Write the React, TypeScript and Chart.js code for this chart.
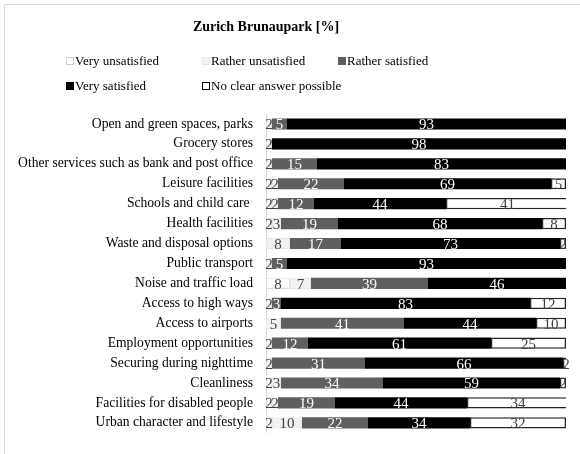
import React, { useEffect, useRef } from "react";
import { Chart, registerables } from "chart.js";

Chart.register(...registerables);

const categories = [
  "Open and green spaces, parks",
  "Grocery stores",
  "Other services such as bank and post office",
  "Leisure facilities",
  "Schools and child care ",
  "Health facilities",
  "Waste and disposal options",
  "Public transport",
  "Noise and traffic load",
  "Access to high ways",
  "Access to airports",
  "Employment opportunities",
  "Securing during nighttime",
  "Cleanliness",
  "Facilities for disabled people",
  "Urban character and lifestyle",
];

const veryUnsatisfied = [0, 0, 0, 2, 2, 2, 0, 0, 8, 0, 0, 0, 0, 2, 2, 2];
const ratherUnsatisfied = [2, 2, 2, 2, 2, 3, 8, 2, 7, 2, 5, 2, 2, 3, 2, 10];
const ratherSatisfied = [5, 0, 15, 22, 12, 19, 17, 5, 39, 3, 41, 12, 31, 34, 19, 22];
const verySatisfied = [93, 98, 83, 69, 44, 68, 73, 93, 46, 83, 44, 61, 66, 59, 44, 34];
const noClearAnswer = [0, 0, 0, 5, 41, 8, 2, 0, 0, 12, 10, 25, 2, 2, 34, 32];

const seriesNames = [
  "Very unsatisfied",
  "Rather unsatisfied",
  "Rather satisfied",
  "Very satisfied",
  "No clear answer possible",
];

const SERIF = '"Liberation Serif", "Times New Roman", serif';

const fills = ["#ffffff", "#f2f2f2", "#5f5f5f", "#000000", "#ffffff"];
const borders = ["#e0e0e0", "#e6e6e6", "#5f5f5f", "#000000", "#262626"];
const borderWidths = [1, 1, 0, 0, 1.5];
const labelColors = ["#404040", "#404040", "#ffffff", "#ffffff", "#404040"];

const decorPlugin = {
  id: "decor",
  beforeDraw(chart: any) {
    const ctx = chart.ctx;
    ctx.save();
    ctx.strokeStyle = "#d9d9d9";
    ctx.lineWidth = 1;
    ctx.beginPath();
    ctx.moveTo(4.5, 454);
    ctx.lineTo(4.5, 4.5);
    ctx.lineTo(580, 4.5);
    ctx.stroke();

    // title
    ctx.fillStyle = "#000";
    ctx.font = `bold 14px ${SERIF}`;
    ctx.textAlign = "center";
    ctx.textBaseline = "middle";
    ctx.fillText("Zurich Brunaupark [%]", 266, 27);

    // legend
    const pos = [
      [66, 61],
      [202, 61],
      [338, 61],
      [66, 86],
      [202, 86],
    ];
    ctx.font = `13px ${SERIF}`;
    ctx.textAlign = "left";
    for (let i = 0; i < 5; i++) {
      const [x, y] = pos[i];
      ctx.fillStyle = fills[i];
      ctx.fillRect(x, y - 4, 8, 8);
      ctx.strokeStyle = i === 4 ? "#000" : i === 0 ? "#d0d0d0" : borders[i];
      ctx.lineWidth = 1;
      ctx.strokeRect(x + 0.5, y - 3.5, 7, 7);
      ctx.fillStyle = "#000";
      ctx.fillText(seriesNames[i], x + 9, y + 1);
    }
    ctx.restore();
  },
  afterDatasetsDraw(chart: any) {
    const ctx = chart.ctx;
    ctx.save();
    ctx.font = `15px ${SERIF}`;
    ctx.textAlign = "center";
    ctx.textBaseline = "middle";
    chart.data.datasets.forEach((ds: any, di: number) => {
      const meta = chart.getDatasetMeta(di);
      meta.data.forEach((bar: any, i: number) => {
        const v = ds.data[i];
        if (!v) return;
        ctx.fillStyle = labelColors[di];
        ctx.fillText(String(v), (bar.x + bar.base) / 2, bar.y + 1.5);
      });
    });
    ctx.restore();
  },
};

export default function App() {
  const ref = useRef<HTMLCanvasElement>(null);
  useEffect(() => {
    document.body.style.margin = "0";
    const data = [veryUnsatisfied, ratherUnsatisfied, ratherSatisfied, verySatisfied, noClearAnswer];
    const chart = new Chart(ref.current!, {
      type: "bar",
      data: {
        labels: categories,
        datasets: data.map((d, i) => ({
          label: seriesNames[i],
          data: d,
          backgroundColor: fills[i],
          borderColor: borders[i],
          borderWidth: borderWidths[i],
          borderSkipped: false,
          barPercentage: 1,
          categoryPercentage: 0.56,
        })),
      },
      options: {
        indexAxis: "y",
        responsive: false,
        animation: false,
        devicePixelRatio: 1,
        layout: { padding: { left: 0, top: 114, right: 14, bottom: 10 } },
        plugins: {
          legend: { display: false },
          title: { display: false },
          tooltip: { enabled: false },
        },
        scales: {
          x: { stacked: true, min: 0, max: 100, display: false },
          y: {
            stacked: true,
            grid: { display: false, drawTicks: false },
            border: { display: true, color: "#d9d9d9", width: 1 },
            ticks: {
              color: "#000",
              font: { family: SERIF, size: 13.6 },
              padding: 13,
              autoSkip: false,
            },
            afterFit(scale: any) {
              scale.width = 266;
            },
          },
        },
      },
      plugins: [decorPlugin],
    } as any);
    return () => chart.destroy();
  }, []);
  return (
    <div style={{ position: "absolute", left: 0, top: 0, width: 580, height: 454 }}>
      <canvas ref={ref} width={580} height={454} />
    </div>
  );
}
